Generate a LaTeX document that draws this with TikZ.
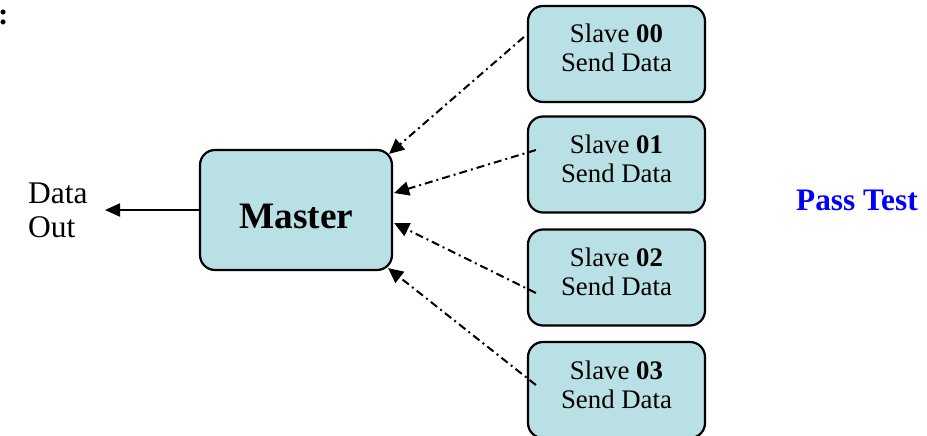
\documentclass[tikz,border=0pt]{standalone}
\usepackage{fontspec}
\setmainfont{Liberation Serif}
\usetikzlibrary{arrows.meta,calc}
\definecolor{boxfill}{RGB}{185,224,228}
\definecolor{passblue}{RGB}{0,0,255}
\begin{document}
\begin{tikzpicture}[x=1pt,y=-1pt,
  box/.style={draw=black,fill=boxfill,line width=2.2pt,rounded corners=15pt,inner sep=0pt},
  slavebox/.style={box,minimum width=177pt,minimum height=96pt},
  slavetext/.style={align=center,inner sep=0pt,font=\fontsize{26.8}{29}\selectfont},
  link/.style={line width=2pt,dash pattern=on 8pt off 4pt on 2pt off 4pt,-{Triangle[length=15pt,width=14pt]}},
  outarrow/.style={line width=2pt,-{Triangle[length=15pt,width=13pt]}},
  plain/.style={inner sep=0pt,font=\fontsize{31.5}{34}\selectfont}]
\useasboundingbox (0,0) rectangle (927,436);
% top-left fragment
\node[plain,anchor=base west,font=\fontsize{31}{34}\selectfont\bfseries] (colon) at (-2,25) {:};
% master
\node[box,minimum width=192pt,minimum height=120pt] (m) at (296,210) {};
\node[inner sep=0pt,anchor=base,font=\fontsize{37.3}{40}\selectfont\bfseries] (mt) at (296.5,228) {Master};
% slaves
\node[slavebox] (s0) at (616.5,54) {};
\node[slavebox] (s1) at (616.5,164.5) {};
\node[slavebox] (s2) at (616.5,277.5) {};
\node[slavebox] (s3) at (616.5,390) {};
\foreach \i in {0,1,2,3}{
  \node[slavetext,anchor=base] (t\i) at ($(s\i.center)+(0,18)$) {Slave \textbf{0\i}\\Send Data};
}
% data out
\node[plain,anchor=base west,align=left] (do) at (28,237) {Data\\Out};
\coordinate (doend) at (105,210);
\draw[outarrow] (m.west) -- (doend);
% links
\draw[link] ($(s0.west)+(-3,-17)$) -- ($(m.north east)+(-4,5)$);
\draw[link] ($(s1.west)+(9,-14.5)$) -- ($(m.east)+(1,-17)$);
\draw[link] ($(s2.west)+(9,15.5)$) -- ($(m.east)+(1,13)$);
\draw[link] ($(s3.west)+(9,-5)$) -- ($(m.south east)+(-5,-3)$);
% pass test
\node[inner sep=0pt,anchor=base west,text=passblue,font=\fontsize{31.3}{34}\selectfont\bfseries] (pass) at (796,210) {Pass Test};
\end{tikzpicture}
\end{document}
